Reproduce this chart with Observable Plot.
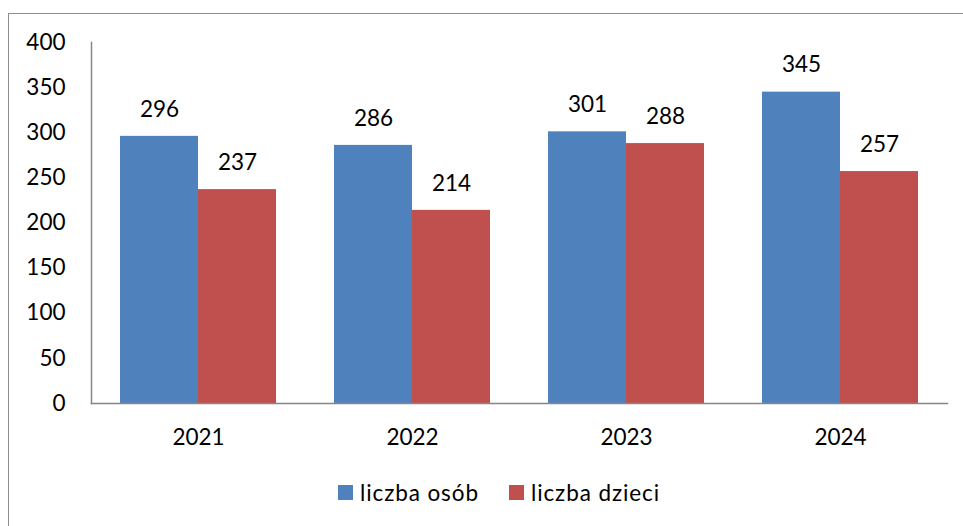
<!DOCTYPE html>
<html>
<head>
<meta charset="utf-8">
<script src="https://cdn.jsdelivr.net/npm/d3@7"></script>
<script src="https://cdn.jsdelivr.net/npm/@observablehq/plot@0.6"></script>
<style>
  html, body { margin: 0; padding: 0; background: #fff; }
  body { width: 963px; height: 526px; position: relative; overflow: hidden; font-family: Lato, sans-serif; }
  #frame { position: absolute; left: 8px; top: 13px; width: 1000px; height: 600px; border-left: 1.5px solid #8c8c8c; border-top: 1.5px solid #8c8c8c; }
  #chart { position: absolute; left: 0; top: 0; }
  #legend { position: absolute; top: 479px; left: 338px; display: flex; align-items: center; font-size: 22.5px; letter-spacing: 0.9px; color: #000; }
  #legend .item { display: flex; align-items: center; }
  #legend .sw { width: 15px; height: 15px; margin-right: 7px; }
  #legend .item + .item { margin-left: 30px; }
</style>
</head>
<body>
<div id="frame"></div>
<div id="chart"></div>
<div id="legend"></div>
<script>
const years = ["2021", "2022", "2023", "2024"];
const series = ["liczba osób", "liczba dzieci"];
const osob = [296, 286, 301, 345];
const dzieci = [237, 214, 288, 257];
const colors = ["#4F81BD", "#C0504D"];
const yTicks = [0, 50, 100, 150, 200, 250, 300, 350, 400];

const data = [];
years.forEach((y, i) => {
  data.push({year: y, series: series[0], value: osob[i]});
  data.push({year: y, series: series[1], value: dzieci[i]});
});

const font = "Lato, sans-serif";
const outer = 29;
const plot = Plot.plot({
  width: 963,
  height: 526,
  marginLeft: 90 + outer,
  marginRight: 16 + outer,
  marginTop: 42,
  marginBottom: 123,
  style: {fontFamily: font, fontSize: "22.5px", color: "#000", background: "transparent"},
  fx: {domain: years, paddingInner: 0.272, paddingOuter: 0, label: null},
  x: {domain: series, padding: 0, axis: null},
  y: {domain: [0, 400], ticks: yTicks, label: null},
  color: {domain: series, range: colors},
  marks: [
    Plot.axisY({ticks: yTicks, tickSize: 0, tickPadding: 26 + outer, label: null, fontSize: "22.5px"}),
    Plot.axisFx({anchor: "bottom", tickSize: 0, tickPadding: 26, label: null, fontSize: "22.5px"}),
    Plot.barY(data, {fx: "year", x: "series", y: "value", fill: "series"}),
    Plot.text(data, {fx: "year", x: "series", y: "value", text: d => String(d.value), dy: -27, fontSize: "22.5px", fill: "#000"}),
    Plot.frame({facet: "super", anchor: "bottom", insetLeft: -outer, insetRight: -outer, stroke: "#868686", strokeWidth: 1.5}),
    Plot.frame({facet: "super", anchor: "left", insetLeft: -outer, stroke: "#868686", strokeWidth: 1.5})
  ]
});
document.getElementById("chart").appendChild(plot);

const legend = document.getElementById("legend");
series.forEach((s, i) => {
  const item = document.createElement("div");
  item.className = "item";
  const sw = document.createElement("div");
  sw.className = "sw";
  sw.style.background = colors[i];
  const t = document.createElement("span");
  t.textContent = s;
  item.appendChild(sw);
  item.appendChild(t);
  legend.appendChild(item);
});
</script>
</body>
</html>
